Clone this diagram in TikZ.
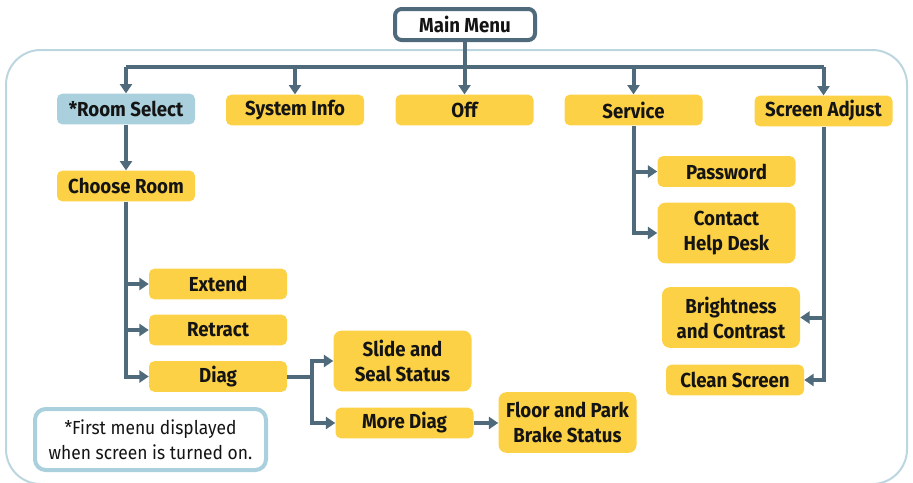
\documentclass[tikz,border=0pt]{standalone}
\usepackage{fontspec}
\setmainfont{Fira Sans}[FakeStretch=0.92]
\usetikzlibrary{arrows.meta}

\definecolor{menuyellow}{HTML}{FCD145}
\definecolor{menublue}{HTML}{A9D0DC}
\definecolor{linkgray}{HTML}{4F6B7B}
\definecolor{framegray}{HTML}{BCD6DF}
\definecolor{textdark}{HTML}{141414}

\tikzset{
  menubox/.style={rounded corners=4pt, fill=menuyellow, text=textdark,
    font=\bfseries\fontsize{15.2}{18.75}\selectfont, align=center,
    minimum width=103.5pt, minimum height=23pt, inner sep=0pt},
  tallbox/.style={menubox, rounded corners=6pt, minimum height=45.5pt},
  startbox/.style={menubox, fill=menublue},
  topbox/.style={menubox, fill=white, draw=linkgray, line width=3pt,
    minimum width=105pt, minimum height=23.25pt, rounded corners=5pt},
  notebox/.style={rounded corners=8pt, draw=menublue, line width=3pt, fill=white,
    text=textdark, font=\fontsize{14.2}{18.75}\selectfont, align=center,
    minimum width=173.25pt, minimum height=45.75pt, inner sep=0pt},
  link/.style={draw=linkgray, line width=3pt},
  arrowlink/.style={link, -{Triangle[length=7pt,width=9pt]}},
}

\begin{document}
\begin{tikzpicture}[x=0.75pt, y=-0.75pt]
  \useasboundingbox (0,0) rectangle (913,482);

  % surrounding frame, open past the bottom edge
  \begin{scope}
    \clip (0,0) rectangle (913,482);
    \draw[framegray, line width=1.5pt, rounded corners=26pt]
      (6,50) rectangle (907,484);
  \end{scope}

  % top level
  \node[topbox] (main) at (465,24.5) {Main Menu};
  \node[startbox] (room)    at (126,109)   {*Room Select};
  \node[menubox]  (sysinfo) at (295,110) {System Info};
  \node[menubox]  (off)     at (464.5,110) {Off};
  \node[menubox]  (service) at (633.5,110) {Service};
  \node[menubox]  (screen)  at (823.5,111) {Screen Adjust};

  % room select branch
  \node[menubox] (choose)  at (126,186)   {Choose Room};
  \node[menubox] (extend)  at (218,284)   {Extend};
  \node[menubox] (retract) at (218,330)   {Retract};
  \node[menubox] (diag)    at (218,376.5) {Diag};
  \node[tallbox] (slide)   at (402.5,361) {Slide and\\Seal Status};
  \node[menubox] (more)    at (404.5,423) {More Diag};
  \node[tallbox] (floor)   at (567.5,422.5) {Floor and Park\\Brake Status};

  % service branch
  \node[menubox] (password) at (726.5,171.5) {Password};
  \node[tallbox] (contact)  at (726.5,233)   {Contact\\Help Desk};

  % screen adjust branch
  \node[tallbox] (bright) at (731,317.5) {Brightness\\and Contrast};
  \node[menubox] (clean)  at (735,380)   {Clean Screen};

  % footnote
  \node[notebox] (note) at (150.5,439.5) {*First menu displayed\\when screen is turned on.};

  % main menu distribution bar
  \coordinate (bar) at (465,67);
  \draw[link] (main.south) -- (bar);
  \draw[link] (bar -| room.north) -- (bar -| screen.north);
  \foreach \n in {room, sysinfo, off, service, screen}
    \draw[arrowlink] (bar -| \n.north) -- (\n.north);

  % room select -> choose room -> actions
  \draw[arrowlink] (room.south) -- (choose.north);
  \draw[arrowlink] (choose.south) |- (diag.west);
  \draw[arrowlink] (choose.south |- extend.west) -- (extend.west);
  \draw[arrowlink] (choose.south |- retract.west) -- (retract.west);

  % diag submenu
  \coordinate (dj) at (312,376.5);
  \draw[link] (diag.east) -- (dj);
  \draw[arrowlink] (dj) |- (slide.west);
  \draw[arrowlink] (dj) |- (more.west);
  \draw[arrowlink] (more.east) -- (more.east -| floor.west);

  % service submenu
  \draw[arrowlink] (service.south) |- (contact.west);
  \draw[arrowlink] (service.south |- password.west) -- (password.west);

  % screen adjust submenu
  \draw[arrowlink] (screen.south) |- (clean.east);
  \draw[arrowlink] (screen.south |- bright.east) -- (bright.east);
\end{tikzpicture}
\end{document}
